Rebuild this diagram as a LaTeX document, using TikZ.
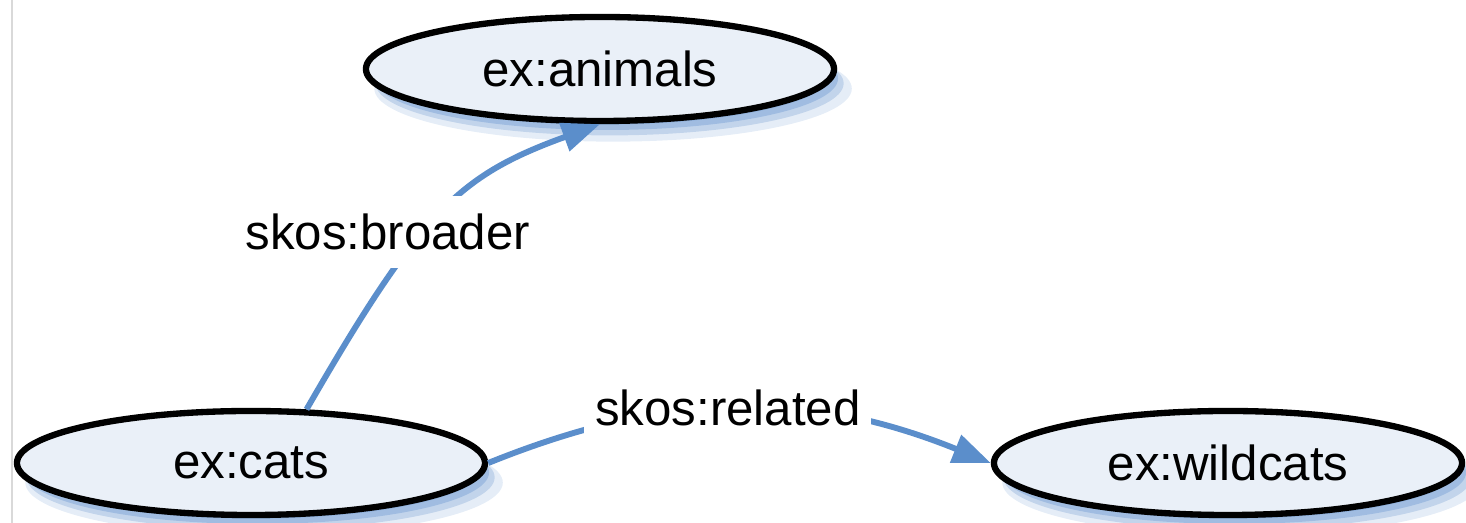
\documentclass[tikz,border=0pt]{standalone}
\usepackage{fontspec}
\setmainfont{Liberation Sans}
\usepackage{xcolor}
\usepackage{tikz}
\usetikzlibrary{shapes.geometric,arrows.meta,shadows,positioning,calc}

\definecolor{conceptfill}{HTML}{EAF0F8}
\definecolor{shadowblue}{HTML}{7FA5D6}
\definecolor{relblue}{HTML}{5B8ECB}

\tikzset{
    concept/.style={ellipse, draw=black, line width=4.5pt, fill=conceptfill,
        minimum width=11.7cm, minimum height=2.6cm, inner sep=0pt,
        font=\fontsize{35}{42}\selectfont,
        general shadow={draw=none, fill=shadowblue, opacity=0.2,
            shadow xshift=0.32cm, shadow yshift=-0.48cm, shadow scale=1.02},
        general shadow={draw=none, fill=shadowblue, opacity=0.35,
            shadow xshift=0.24cm, shadow yshift=-0.36cm},
        general shadow={draw=none, fill=shadowblue, opacity=0.5,
            shadow xshift=0.16cm, shadow yshift=-0.24cm, shadow scale=0.99},
        general shadow={draw=none, fill=shadowblue, opacity=0.6,
            shadow xshift=0.08cm, shadow yshift=-0.12cm, shadow scale=0.98}},
    rel/.style={draw=relblue, line width=4.2pt,
        -{Triangle[length=0.95cm,width=0.72cm]}},
    lbl/.style={fill=white, inner xsep=0.27cm, inner ysep=0.45cm,
        font=\fontsize{35}{42}\selectfont}
}

\begin{document}
\begin{tikzpicture}[x=0.025cm, y=0.025cm]
    \useasboundingbox (0,0) rectangle (1466,523);
    \draw[gray!30, line width=0.05cm] (12,0) -- (12,523);

    % concepts
    \node[concept] (animals) at (600,454) {ex:animals};
    \node[concept] (cats) at (251,60) {ex:cats};
    \node[concept] (wildcats) at (1228,60) {ex:wildcats};

    % relations
    \draw[rel] (cats.44) .. controls +(60:230) and +(200:150) .. (animals.south)
        node[lbl, pos=0.42, xshift=-0.9cm] (broader) {skos:broader};
    \draw[rel] (cats.east) to[out=22, in=158]
        node[lbl, xshift=-0.29cm] (related) {skos:related} (wildcats.west);
\end{tikzpicture}
\end{document}
